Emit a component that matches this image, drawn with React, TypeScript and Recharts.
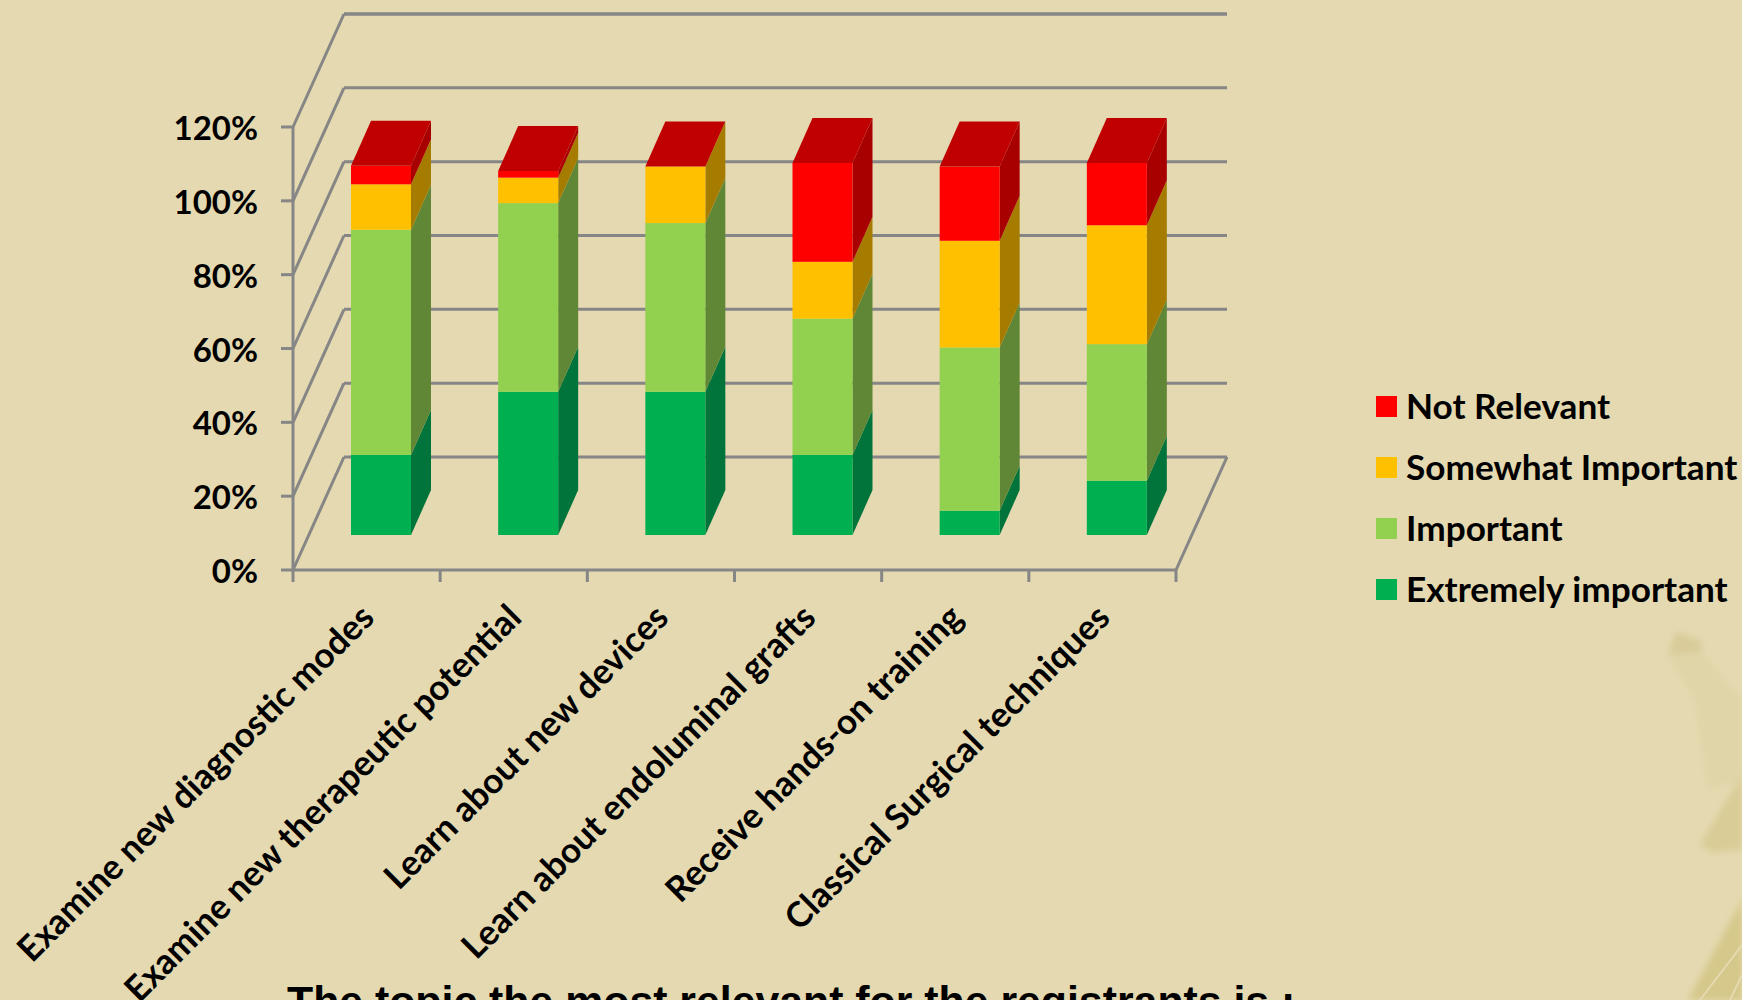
import { BarChart, Bar, XAxis, YAxis, Legend, CartesianGrid } from "recharts";

const categories = [
  "Examine new diagnostic modes",
  "Examine new therapeutic potential",
  "Learn about new devices",
  "Learn about endoluminal grafts",
  "Receive hands-on training",
  "Classical Surgical techniques",
];

const extremelyImportant = [21.7, 38.8, 38.8, 21.7, 6.6, 14.7];
const important = [61, 51.1, 45.7, 36.9, 44.2, 37];
const somewhatImportant = [12.3, 6.9, 15.3, 15.4, 28.9, 32.2];
const notRelevant = [5, 1.8, 0, 26.8, 20.1, 16.9];

const yTicks = [0, 20, 40, 60, 80, 100, 120];

const data = categories.map((name, i) => ({
  name,
  extremely: extremelyImportant[i],
  important: important[i],
  somewhat: somewhatImportant[i],
  notRelevant: notRelevant[i],
}));

const WIDTH = 1742;
const HEIGHT = 1000;
const PLOT_LEFT = 293;
const PLOT_RIGHT = 1176;
const PLOT_TOP = 127;
const PLOT_BOTTOM = 570;
const AXIS_W = 100;
const AXIS_H = 300;
const BAND = (PLOT_RIGHT - PLOT_LEFT) / categories.length;

const WALL_DX = 51;
const WALL_DY = 113;
const BAR_SHIFT_X = 14;
const BAR_SHIFT_Y = 35;
const BAR_DX = 20;
const BAR_DY = 45;

const LINE = "#868686";
const FONT = "Lato, Carlito, sans-serif";

// fake 3d column: front face, side face and (for the top series) a lid
function box(side: string, lid?: string) {
  return (props: any) => {
    const { x, y, width, height, fill } = props;
    const l = x + BAR_SHIFT_X;
    const r = l + width;
    const t = y - BAR_SHIFT_Y;
    const b = t + height;
    return (
      <g>
        <polygon
          points={`${r},${t} ${r + BAR_DX},${t - BAR_DY} ${r + BAR_DX},${b - BAR_DY} ${r},${b}`}
          fill={side}
        />
        <rect x={l} y={t} width={width} height={height} fill={fill} />
        {lid && (
          <polygon
            points={`${l},${t} ${l + BAR_DX},${t - BAR_DY} ${r + BAR_DX},${t - BAR_DY} ${r},${t}`}
            fill={lid}
          />
        )}
      </g>
    );
  };
}

// each grid line becomes the side wall diagonal + the back wall line
function WallLine(props: any) {
  const { y1: y } = props;
  const isFloor = Math.abs(y - PLOT_BOTTOM) < 1;
  const isTop = Math.abs(y - PLOT_TOP) < 1;
  return (
    <g>
      <line x1={PLOT_LEFT} y1={y} x2={PLOT_LEFT + WALL_DX} y2={y - WALL_DY} stroke={LINE} strokeWidth={3} />
      <line
        x1={PLOT_LEFT + WALL_DX}
        y1={y - WALL_DY}
        x2={PLOT_RIGHT + WALL_DX}
        y2={y - WALL_DY}
        stroke={LINE}
        strokeWidth={isTop ? 3.5 : 3}
      />
      {isFloor && (
        <line x1={PLOT_RIGHT} y1={y} x2={PLOT_RIGHT + WALL_DX} y2={y - WALL_DY} stroke={LINE} strokeWidth={3} />
      )}
    </g>
  );
}

function PercentTick(props: any) {
  const { x, y, payload } = props;
  return (
    <text x={x - 1} y={y} dy={13} textAnchor="end" fontFamily={FONT} fontWeight={700} fontSize={33} fill="#000">
      {payload.value}%
    </text>
  );
}

// in the source the tick marks sit on the category boundaries, not the centres
function CategoryTick(props: any) {
  const { x, payload, index } = props;
  const lx = x - 8;
  const ly = PLOT_BOTTOM + 32;
  const left = x - BAND / 2;
  return (
    <g>
      <line x1={left} y1={PLOT_BOTTOM} x2={left} y2={PLOT_BOTTOM + 12} stroke={LINE} strokeWidth={3} />
      {index === categories.length - 1 && (
        <line x1={x + BAND / 2} y1={PLOT_BOTTOM} x2={x + BAND / 2} y2={PLOT_BOTTOM + 12} stroke={LINE} strokeWidth={3} />
      )}
      <text
        x={lx}
        y={ly}
        dy="0.71em"
        textAnchor="end"
        transform={`rotate(-45 ${lx} ${ly})`}
        fontFamily={FONT}
        fontWeight={700}
        fontSize={35}
        fill="#000"
      >
        {payload.value}
      </text>
    </g>
  );
}

function LegendList({ payload }: any) {
  const items = [...(payload || [])].reverse();
  return (
    <div style={{ fontFamily: FONT, fontWeight: 700, fontSize: 35.2, color: "#000" }}>
      {items.map((it: any) => (
        <div key={it.value} style={{ display: "flex", alignItems: "center", height: 61, whiteSpace: "nowrap" }}>
          <span style={{ width: 21, height: 21, background: it.color, marginRight: 9, flex: "none" }} />
          <span style={{ position: "relative", top: -2 }}>{it.value}</span>
        </div>
      ))}
    </div>
  );
}

export default function App() {
  return (
    <div
      style={{
        position: "absolute",
        left: 0,
        top: 0,
        width: WIDTH,
        height: HEIGHT,
        overflow: "hidden",
        background: "#E4D9B0",
      }}
    >
      {/* faint plant from the slide background */}
      <svg width={WIDTH} height={HEIGHT} style={{ position: "absolute", left: 0, top: 0 }}>
        <defs>
          <filter id="soft" x="-20%" y="-20%" width="140%" height="140%">
            <feGaussianBlur stdDeviation="3" />
          </filter>
        </defs>
        <g filter="url(#soft)">
          <path d="M1668 655 L1676 632 L1700 640 L1704 655 L1742 700 L1742 780 L1708 790 L1695 700 Z" fill="#E0D5A8" />
          <path d="M1668 655 L1676 632 L1700 640 L1702 652 Z" fill="#D9CC9A" />
          <path d="M1700 845 L1742 775 L1742 850 L1712 852 Z" fill="#D9CC96" />
          <path d="M1688 1000 L1742 900 L1742 1000 Z" fill="#D6C88A" />
        </g>
        <path d="M1700 1000 L1742 945 M1730 1000 L1742 975" stroke="#E4D9B0" strokeWidth={2} fill="none" />
      </svg>
      <div style={{ position: "absolute", left: 0, top: 0 }}>
        <BarChart
          width={WIDTH}
          height={HEIGHT}
          data={data}
          margin={{
            left: PLOT_LEFT - AXIS_W,
            right: WIDTH - PLOT_RIGHT,
            top: PLOT_TOP,
            bottom: HEIGHT - PLOT_BOTTOM - AXIS_H,
          }}
          barSize={60}
        >
          <CartesianGrid horizontal={<WallLine />} vertical={false} horizontalValues={yTicks} />
          <YAxis
            width={AXIS_W}
            domain={[0, 120]}
            ticks={yTicks}
            interval={0}
            stroke={LINE}
            strokeWidth={3}
            tickSize={12}
            tickMargin={22}
            tick={<PercentTick />}
          />
          <XAxis
            dataKey="name"
            height={AXIS_H}
            interval={0}
            stroke={LINE}
            strokeWidth={3}
            tickLine={false}
            tick={<CategoryTick />}
          />
          <Bar dataKey="extremely" name="Extremely important" stackId="a" fill="#00B050" shape={box("#00743A")} isAnimationActive={false} />
          <Bar dataKey="important" name="Important" stackId="a" fill="#92D050" shape={box("#5F8735")} isAnimationActive={false} />
          <Bar dataKey="somewhat" name="Somewhat Important" stackId="a" fill="#FFC000" shape={box("#A67C00")} isAnimationActive={false} />
          <Bar dataKey="notRelevant" name="Not Relevant" stackId="a" fill="#FF0000" shape={box("#A80000", "#C00000")} isAnimationActive={false} />
          <Legend
            layout="vertical"
            align="center"
            verticalAlign="middle"
            itemSorter={null}
            content={<LegendList />}
            wrapperStyle={{ position: "absolute", left: 1376, top: 376, width: 366, right: "auto", bottom: "auto" }}
          />
        </BarChart>
      </div>
      <div
        style={{
          position: "absolute",
          left: 287,
          top: 977,
          fontFamily: "'Liberation Sans', Arial, sans-serif",
          fontWeight: 700,
          fontSize: 42.8,
          whiteSpace: "nowrap",
          color: "#000",
        }}
      >
        The topic the most relevant for the registrants is :
      </div>
    </div>
  );
}
